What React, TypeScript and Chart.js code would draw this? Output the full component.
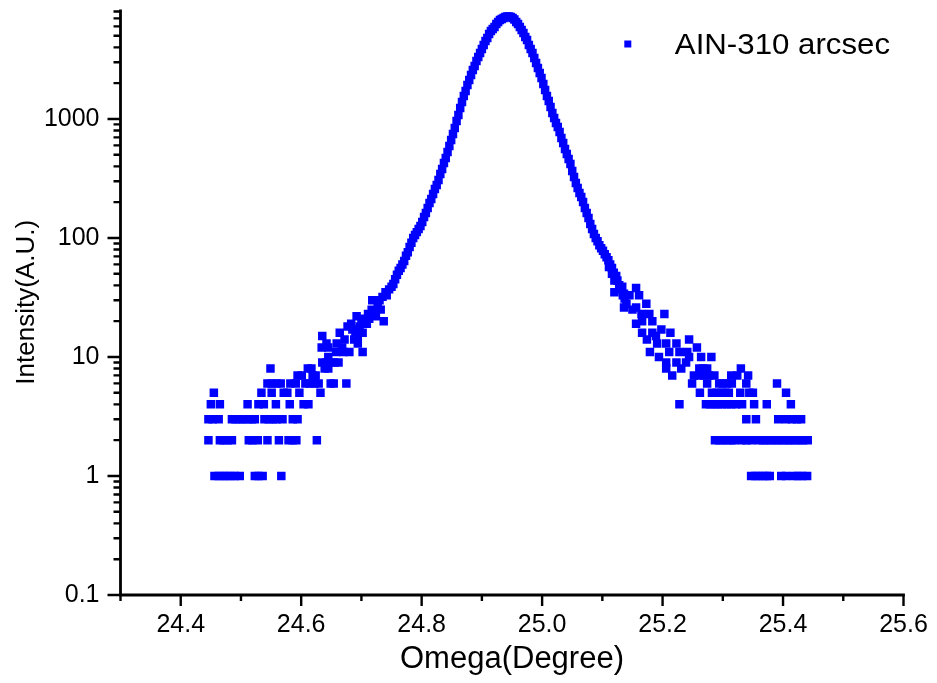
import React, { useEffect, useRef } from "react";
import { Chart, registerables } from "chart.js";

Chart.register(...registerables);

const seriesLabel = "AIN-310 arcsec";
const xTitle = "Omega(Degree)";
const yTitle = "Intensity(A.U.)";
const xMin = 24.3;
const xMax = 25.6;
const yMin = 0.1;
const yMax = 8300;
const xTickLabels = ["24.4", "24.6", "24.8", "25.0", "25.2", "25.4", "25.6"];
const xMinorTicks = [24.3, 24.5, 24.7, 24.9, 25.1, 25.3, 25.5];
const yTickLabels = ["0.1", "1", "10", "100", "1000"];
const yMinorSteps = [2, 3, 4, 5, 6, 7, 8, 9];

// low-count left tail
const leftTailOmega = [
  24.456, 24.463, 24.470, 24.476, 24.483, 24.490, 24.498, 24.523, 24.529, 24.536, 24.567,
  24.446, 24.465, 24.471, 24.478, 24.485, 24.513, 24.519, 24.528, 24.544, 24.563, 24.579, 24.586, 24.592, 24.626,
  24.446, 24.453, 24.463, 24.485, 24.491, 24.498, 24.504, 24.511, 24.518, 24.523, 24.539, 24.546, 24.553, 24.559, 24.569, 24.586, 24.594,
  24.450, 24.465, 24.511, 24.529, 24.538, 24.558, 24.581, 24.604, 24.612,
  24.455, 24.534, 24.551, 24.571, 24.577, 24.597, 24.632,
  24.544, 24.551, 24.559, 24.566, 24.582, 24.591, 24.607, 24.614, 24.622, 24.629, 24.649, 24.654, 24.675,
  24.594, 24.601, 24.619, 24.624,
  24.549, 24.611, 24.617, 24.639, 24.645,
  24.635, 24.642, 24.649, 24.655, 24.662,
  24.645,
  24.635, 24.642, 24.634, 24.645, 24.659, 24.658, 24.670, 24.680, 24.672, 24.677,
  24.685, 24.692, 24.700, 24.709, 24.702, 24.694, 24.702, 24.694, 24.737, 24.718,
  24.730, 24.717, 24.732, 24.724, 24.713, 24.742, 24.746, 24.690, 24.664, 24.668,
  24.705, 24.711, 24.721, 24.727, 24.735, 24.740, 24.683, 24.688, 24.697,
];
const leftTailIntensity = [
  1, 1, 1, 1, 1, 1, 1, 1, 1, 1, 1,
  2, 2, 2, 2, 2, 2, 2, 2, 2, 2, 2, 2, 2, 2,
  3, 3, 3, 3, 3, 3, 3, 3, 3, 3, 3, 3, 3, 3, 3, 3, 3,
  4, 4, 4, 4, 4, 4, 4, 4, 4,
  5, 5, 5, 5, 5, 5, 5,
  6, 6, 6, 6, 6, 6, 6, 6, 6, 6, 6, 6, 6,
  7, 7, 7, 7,
  8, 8, 8, 8, 8,
  9, 9, 9, 9, 9,
  10,
  15, 13, 12, 12, 13, 11, 11, 11, 14, 18,
  17, 22, 20, 19, 11, 15, 16, 13, 20, 30,
  30, 25, 25, 22, 21, 33, 37, 16, 16, 12,
  21, 23, 24, 28, 32, 35, 19, 14, 18,
];

// main rocking-curve peak
const peakOmega = [
  24.750, 24.753, 24.756, 24.759, 24.762, 24.765, 24.768, 24.771, 24.774, 24.777,
  24.780, 24.783, 24.786, 24.789, 24.792, 24.795, 24.798, 24.801, 24.804, 24.807,
  24.810, 24.813, 24.816, 24.819, 24.822, 24.825, 24.828, 24.831, 24.834, 24.837,
  24.840, 24.843, 24.846, 24.849, 24.852, 24.855, 24.858, 24.861, 24.864, 24.867,
  24.870, 24.873, 24.876, 24.879, 24.882, 24.885, 24.888, 24.891, 24.894, 24.897,
  24.900, 24.903, 24.906, 24.909, 24.912, 24.915, 24.918, 24.921, 24.924, 24.927,
  24.930, 24.933, 24.936, 24.939, 24.942, 24.945, 24.948, 24.951, 24.954, 24.957,
  24.960, 24.963, 24.966, 24.969, 24.972, 24.975, 24.978, 24.981, 24.984, 24.987,
  24.990, 24.993, 24.996, 24.999, 25.002, 25.005, 25.008, 25.011, 25.014, 25.017,
  25.020, 25.023, 25.026, 25.029, 25.032, 25.035, 25.038, 25.041, 25.044, 25.047,
  25.050, 25.053, 25.056, 25.059, 25.062, 25.065, 25.068, 25.071, 25.074, 25.077,
  25.080, 25.083, 25.086, 25.089, 25.092, 25.095, 25.098, 25.101, 25.104, 25.107,
  25.110, 25.113, 25.116, 25.119, 25.122, 25.125, 25.128, 25.131, 25.134, 25.137,
  25.140,
];
const peakIntensity = [
  39, 41, 45, 49, 53, 56, 60, 64, 71, 76,
  84, 91, 100, 106, 112, 119, 126, 136, 150, 162,
  179, 197, 213, 234, 258, 279, 307, 345, 380, 427,
  470, 528, 593, 666, 748, 840, 962, 1081, 1237, 1390,
  1561, 1719, 1931, 2128, 2344, 2581, 2788, 3070, 3318, 3588,
  3875, 4188, 4522, 4795, 5180, 5488, 5703, 5930, 6285, 6535,
  6790, 6920, 7060, 7195, 7265, 7265, 7195, 7060, 6860, 6535,
  6285, 5930, 5596, 5280, 4888, 4613, 4188, 3875, 3588, 3258,
  2957, 2685, 2437, 2212, 1968, 1753, 1561, 1417, 1262, 1123,
  1020, 925, 857, 778, 692, 629, 560, 508, 461, 419,
  366, 326, 290, 263, 239, 221, 201, 179, 162, 147,
  131, 119, 108, 100, 94, 87, 82, 78, 73, 69,
  65, 60, 56, 51, 47, 44, 40, 37, 33, 31,
  28,
];

// low-count right tail
const rightTailOmega = [
  25.111, 25.116, 25.123, 25.120, 25.120, 25.133, 25.136, 25.145, 25.156, 25.161,
  25.173, 25.150, 25.156, 25.136, 25.165, 25.178, 25.203, 25.156, 25.166, 25.183,
  25.166, 25.183, 25.198, 25.213, 25.174, 25.189, 25.191, 25.206, 25.223, 25.244,
  25.179, 25.194, 25.211, 25.228, 25.241, 25.257, 25.206, 25.223, 25.239, 25.244,
  25.264, 25.281, 25.206, 25.231, 25.216, 25.261, 25.274, 25.330, 25.267,
  25.252, 25.261, 25.269, 25.277, 25.286, 25.314, 25.324, 25.342,
  25.249, 25.274, 25.294, 25.300, 25.307, 25.315, 25.339, 25.390,
  25.262, 25.282, 25.290, 25.297, 25.304, 25.310, 25.329, 25.344, 25.350, 25.405,
  25.228, 25.272, 25.279, 25.286, 25.292, 25.299, 25.307, 25.314, 25.322, 25.332, 25.352, 25.373, 25.413,
  25.339, 25.355, 25.392, 25.405, 25.415, 25.423, 25.430,
  25.287, 25.294, 25.300, 25.307, 25.314, 25.319, 25.332, 25.339, 25.347, 25.360, 25.367,
  25.373, 25.380, 25.387, 25.393, 25.400, 25.407, 25.413, 25.420, 25.427, 25.433, 25.441,
  25.347, 25.354, 25.360, 25.367, 25.373, 25.378, 25.397, 25.405, 25.418, 25.425, 25.432, 25.440,
];
const rightTailIntensity = [
  57, 50, 48, 44, 35, 39, 34, 33, 38, 33,
  28, 25, 26, 26, 23, 23, 23, 19, 20, 20,
  16, 16, 17, 16, 14, 15, 13, 13, 13, 14,
  11, 10, 11, 11, 11, 12, 9, 9, 9, 10,
  10, 10, 8, 8, 7, 8, 8, 8, 8,
  7, 7, 7, 7, 7, 7, 7, 7,
  6, 6, 6, 6, 6, 6, 6, 6,
  5, 5, 5, 5, 5, 5, 5, 5, 5, 5,
  4, 4, 4, 4, 4, 4, 4, 4, 4, 4, 4, 4, 4,
  3, 3, 3, 3, 3, 3, 3,
  2, 2, 2, 2, 2, 2, 2, 2, 2, 2, 2,
  2, 2, 2, 2, 2, 2, 2, 2, 2, 2, 2,
  1, 1, 1, 1, 1, 1, 1, 1, 1, 1, 1, 1,
];

const FONT = "'Liberation Sans', Arial, Helvetica, sans-serif";

function toPoints(xs: number[], ys: number[]) {
  return xs.map((x, i) => ({ x, y: ys[i] }));
}

function matchLabel(labels: string[], value: number): string {
  const hit = labels.find((l) => Math.abs(parseFloat(l) / value - 1) < 1e-6);
  return hit === undefined ? "" : hit;
}

const axisPlugin = {
  id: "originAxes",
  afterDraw(chart: any) {
    const { ctx, chartArea: a, scales } = chart;
    const xs = scales.x;
    const ys = scales.y;
    ctx.save();
    ctx.strokeStyle = "#000";
    ctx.lineWidth = 2.8;
    ctx.beginPath();
    ctx.moveTo(a.left, a.top);
    ctx.lineTo(a.left, a.bottom + 1.4);
    ctx.moveTo(a.left - 1.4, a.bottom);
    ctx.lineTo(a.right + 1.4, a.bottom);
    ctx.stroke();
    ctx.lineWidth = 2.4;
    ctx.beginPath();
    xs.ticks.forEach((t: any) => {
      const px = xs.getPixelForValue(t.value);
      const major = matchLabel(xTickLabels, t.value) !== "";
      ctx.moveTo(px, a.bottom);
      ctx.lineTo(px, a.bottom + (major ? 11 : 6));
    });
    ys.ticks.forEach((t: any) => {
      const py = ys.getPixelForValue(t.value);
      const major = matchLabel(yTickLabels, t.value) !== "";
      ctx.moveTo(a.left, py);
      ctx.lineTo(a.left - (major ? 13 : 7), py);
    });
    ctx.stroke();

    // legend
    const ds = chart.data.datasets[0];
    const lx = a.left + (a.right - a.left) * 0.6479;
    const ly = a.top + 34.4;
    ctx.fillStyle = ds.pointBackgroundColor;
    ctx.fillRect(lx - 3.5, ly - 3.5, 7, 7);
    ctx.fillStyle = "#000";
    ctx.font = `29px ${FONT}`;
    ctx.textBaseline = "alphabetic";
    ctx.textAlign = "left";
    ctx.translate(lx + 47, ly + 10);
    ctx.scale(1.077, 1);
    ctx.fillText(ds.label, 0, 0);
    ctx.restore();
  },
};

export default function App() {
  const ref = useRef<HTMLCanvasElement | null>(null);

  useEffect(() => {
    if (!ref.current) return;
    const data = [
      ...toPoints(leftTailOmega, leftTailIntensity),
      ...toPoints(peakOmega, peakIntensity),
      ...toPoints(rightTailOmega, rightTailIntensity),
    ];
    const yTicks: number[] = [];
    yTickLabels.forEach((l) => {
      const d = parseFloat(l);
      yTicks.push(d);
      yMinorSteps.forEach((m) => {
        if (d * m <= yMax) yTicks.push(d * m);
      });
    });
    const xTicks = [...xMinorTicks, ...xTickLabels.map((l) => parseFloat(l))].sort((p, q) => p - q);

    const chart = new Chart(ref.current, {
      type: "scatter",
      data: {
        datasets: [
          {
            label: seriesLabel,
            data,
            showLine: false,
            pointStyle: "rect",
            pointRadius: 6,
            pointHoverRadius: 6,
            pointBorderWidth: 0,
            pointBackgroundColor: "#0000FF",
            backgroundColor: "#0000FF",
            borderColor: "#0000FF",
          },
        ],
      },
      options: {
        animation: false,
        responsive: false,
        events: [],
        layout: { autoPadding: false, padding: { left: 0, right: 25.5, top: 1.6, bottom: 0 } },
        plugins: {
          legend: { display: false },
          tooltip: { enabled: false },
        },
        scales: {
          x: {
            type: "linear",
            min: xMin,
            max: xMax,
            afterFit: (s: any) => {
              s.height = 80;
              s.paddingLeft = 0;
              s.paddingRight = 0;
              s.paddingTop = 0;
              s.paddingBottom = 0;
            },
            afterBuildTicks: (s: any) => {
              s.ticks = xTicks.map((v) => ({ value: v }));
            },
            grid: { display: false, drawTicks: false },
            border: { display: false },
            ticks: {
              autoSkip: false,
              maxRotation: 0,
              padding: 15,
              color: "#000",
              font: { family: FONT, size: 25 },
              callback: (v: any) => matchLabel(xTickLabels, Number(v)),
            },
            title: {
              display: true,
              text: xTitle,
              color: "#000",
              font: { family: FONT, size: 31, lineHeight: 1 },
              padding: { top: 0, bottom: 0 },
            },
          },
          y: {
            type: "logarithmic",
            min: yMin,
            max: yMax,
            afterFit: (s: any) => {
              s.width = 112.5;
              s.paddingLeft = 0;
              s.paddingRight = 0;
              s.paddingTop = 0;
              s.paddingBottom = 0;
            },
            afterBuildTicks: (s: any) => {
              s.ticks = yTicks.map((v) => ({ value: v }));
            },
            grid: { display: false, drawTicks: false },
            border: { display: false },
            ticks: {
              autoSkip: false,
              padding: 21,
              color: "#000",
              font: { family: FONT, size: 25 },
              callback: (v: any) => matchLabel(yTickLabels, Number(v)),
            },
            title: {
              display: true,
              text: yTitle,
              color: "#000",
              font: { family: FONT, size: 26, lineHeight: 1.2 },
              padding: { top: 3, bottom: 0 },
            },
          },
        },
      },
      plugins: [axisPlugin],
    });
    return () => chart.destroy();
  }, []);

  return (
    <div style={{ width: 921, height: 667 }}>
      <canvas ref={ref} width={921} height={667} style={{ display: "block" }} />
    </div>
  );
}
